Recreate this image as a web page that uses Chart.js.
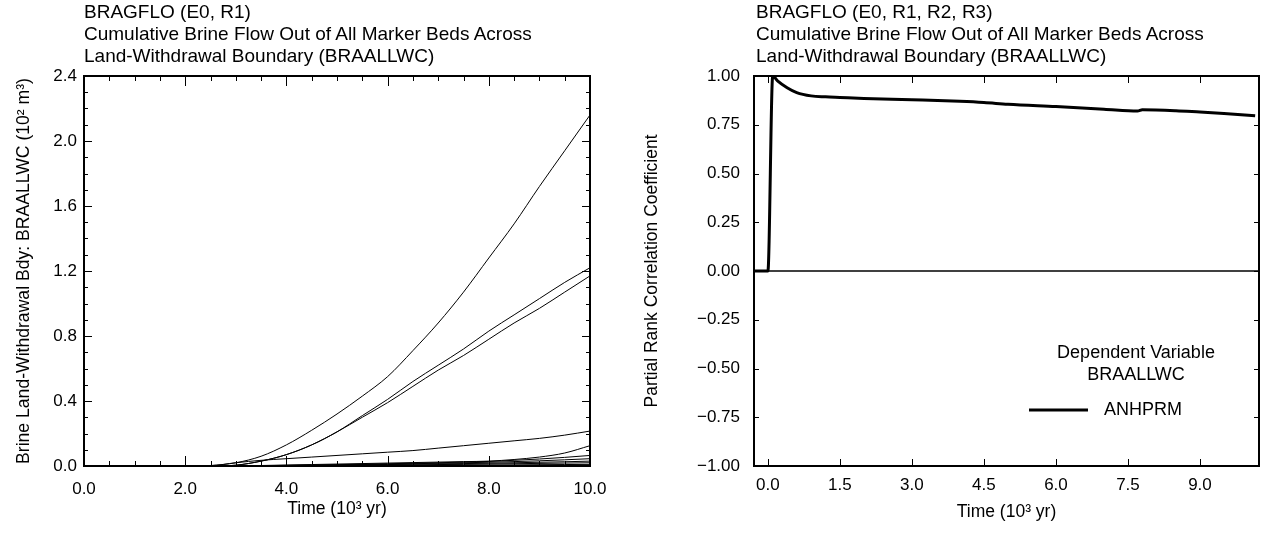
<!DOCTYPE html>
<html><head><meta charset="utf-8">
<script src="https://cdn.jsdelivr.net/npm/chart.js@4.4.1/dist/chart.umd.min.js"></script>
<style>
html,body{margin:0;padding:0;background:#fff;width:1262px;height:533px;overflow:hidden;}
.wrap{position:absolute;top:0;width:631px;height:533px;}
canvas{position:absolute;left:0;top:0;}
.title{position:absolute;top:1px;font-family:"Liberation Sans",Arial,sans-serif;font-size:19px;line-height:22px;color:#000;white-space:nowrap;}
</style></head><body>
<div class="wrap" style="left:0px"><canvas id="c1" width="631" height="533"></canvas>
<div class="title" style="left:84px">BRAGFLO (E0, R1)<br>Cumulative Brine Flow Out of All Marker Beds Across<br>Land-Withdrawal Boundary (BRAALLWC)</div></div>
<div class="wrap" style="left:631px"><canvas id="c2" width="631" height="533"></canvas>
<div class="title" style="left:125px">BRAGFLO (E0, R1, R2, R3)<br>Cumulative Brine Flow Out of All Marker Beds Across<br>Land-Withdrawal Boundary (BRAALLWC)</div></div>
<script>
// ---------- Left chart data (10^3 yr, 10^2 m^3) ----------
const times = [0, 2.0, 2.5, 3.0, 3.5, 4.0, 4.5, 5.0, 5.5, 6.0, 6.5, 7.0, 7.5, 8.0, 8.5, 9.0, 9.5, 10.0];
const vec1  = [0, 0, 0.003, 0.02, 0.06, 0.13, 0.22, 0.32, 0.43, 0.55, 0.71, 0.88, 1.07, 1.28, 1.49, 1.72, 1.94, 2.16];
const vec2  = [0, 0, 0, 0.005, 0.03, 0.07, 0.13, 0.21, 0.31, 0.41, 0.52, 0.62, 0.72, 0.83, 0.93, 1.03, 1.13, 1.22];
const vec3  = [0, 0, 0, 0.005, 0.03, 0.07, 0.13, 0.21, 0.30, 0.39, 0.49, 0.59, 0.68, 0.78, 0.88, 0.97, 1.07, 1.17];
const vec4  = [0, 0, 0.002, 0.02, 0.035, 0.045, 0.055, 0.065, 0.075, 0.085, 0.095, 0.11, 0.125, 0.14, 0.155, 0.17, 0.19, 0.215];
const vec5  = [0, 0, 0, 0, 0.003, 0.006, 0.009, 0.012, 0.015, 0.018, 0.021, 0.024, 0.027, 0.03, 0.04, 0.055, 0.08, 0.125];
const vec6  = [0, 0, 0, 0, 0.002, 0.004, 0.006, 0.008, 0.011, 0.014, 0.017, 0.02, 0.024, 0.028, 0.035, 0.043, 0.053, 0.065];
const vec7  = [0, 0, 0, 0, 0.001, 0.003, 0.005, 0.007, 0.009, 0.011, 0.014, 0.017, 0.02, 0.023, 0.027, 0.032, 0.038, 0.045];
const vec8  = [0, 0, 0, 0, 0.001, 0.002, 0.003, 0.005, 0.007, 0.009, 0.011, 0.013, 0.015, 0.017, 0.02, 0.023, 0.026, 0.03];
const vec9  = [0, 0, 0, 0, 0, 0.001, 0.002, 0.003, 0.004, 0.006, 0.007, 0.009, 0.01, 0.012, 0.014, 0.016, 0.018, 0.02];
const vec10 = [0, 0, 0, 0, 0, 0.001, 0.001, 0.002, 0.002, 0.003, 0.004, 0.004, 0.005, 0.006, 0.007, 0.008, 0.009, 0.01];
const vec11 = [0, 0, 0, 0, 0, 0, 0, 0.001, 0.001, 0.001, 0.002, 0.002, 0.002, 0.003, 0.003, 0.004, 0.004, 0.005];
const vec12 = [0, 0, 0, 0, 0, 0, 0, 0, 0, 0, 0, 0, 0, 0, 0, 0, 0, 0.001];
const leftSeries = [vec1, vec2, vec3, vec4, vec5, vec6, vec7, vec8, vec9, vec10, vec11, vec12];
const leftXTicks = [0, 2, 4, 6, 8, 10];
const leftYTicks = [0, 0.4, 0.8, 1.2, 1.6, 2.0, 2.4];

// ---------- Right chart data (PRCC) ----------
const prccTime = [-0.29, 0.0, 0.1, 0.2, 0.4, 0.6, 0.9, 1.2, 1.5, 2.0, 3.0, 4.0, 4.5, 5.0, 6.0, 7.0, 7.7, 7.8, 8.5, 9.0, 9.5, 10.15];
const prccANHPRM = [0, 0, 1.0, 0.975, 0.94, 0.915, 0.898, 0.893, 0.89, 0.885, 0.878, 0.87, 0.864, 0.855, 0.843, 0.83, 0.82, 0.827, 0.822, 0.815, 0.808, 0.796];
const zeroLineX = [-0.29, 10.23];
const zeroLineY = [0, 0];
const rightXTicks = [0, 1.5, 3.0, 4.5, 6.0, 7.5, 9.0];
const rightYTicks = [-1.0, -0.75, -0.5, -0.25, 0, 0.25, 0.5, 0.75, 1.0];

const FONT = "'Liberation Sans', Arial, sans-serif";
Chart.defaults.font.family = FONT;
Chart.defaults.font.size = 17;
Chart.defaults.color = '#000';

function range(a, b, s) { const r = []; for (let v = a; v <= b + 1e-9; v += s) r.push(+v.toFixed(4)); return r; }

const frameTicks = {
  id: 'frameTicks',
  afterDatasetsDraw(chart, args, o) {
    const { ctx, chartArea: a, scales: { x, y } } = chart;
    ctx.save();
    ctx.strokeStyle = '#000';
    ctx.lineWidth = 1;
    const isMajor = (v, arr) => arr.some(m => Math.abs(m - v) < 1e-6);
    ctx.beginPath();
    o.xMinor.forEach(v => {
      const p = Math.round(x.getPixelForValue(v)) + 0.5;
      const L = isMajor(v, o.xMajor) ? o.xMajorLen : o.xMinorLen;
      ctx.moveTo(p, a.bottom); ctx.lineTo(p, a.bottom - L);
      ctx.moveTo(p, a.top); ctx.lineTo(p, a.top + L);
    });
    o.yMinor.forEach(v => {
      const p = Math.round(y.getPixelForValue(v)) + 0.5;
      const L = isMajor(v, o.yMajor) ? o.yMajorLen : o.yMinorLen;
      ctx.moveTo(a.left, p); ctx.lineTo(a.left + L, p);
      ctx.moveTo(a.right, p); ctx.lineTo(a.right - L, p);
    });
    ctx.stroke();
    ctx.lineWidth = 2;
    ctx.strokeRect(a.left, a.top, a.right - a.left, a.bottom - a.top);
    if (o.legend) {
      const L = o.legend;
      ctx.fillStyle = '#000';
      ctx.font = L.size + 'px ' + FONT;
      ctx.textAlign = 'center';
      ctx.textBaseline = 'middle';
      L.heading.forEach((t, i) => ctx.fillText(t, L.cx, L.y0 + i * L.dy));
      ctx.lineWidth = 3;
      ctx.beginPath();
      ctx.moveTo(L.lx0, L.ly); ctx.lineTo(L.lx1, L.ly); ctx.stroke();
      ctx.textAlign = 'left';
      ctx.fillText(L.label, L.tx, L.ly);
    }
    ctx.restore();
  }
};

function axisBase(ticks, extra) {
  return Object.assign({
    type: 'linear',
    grid: { display: false, drawTicks: false },
    border: { display: false },
    afterBuildTicks: s => { s.ticks = ticks.map(v => ({ value: v })); },
  }, extra);
}

const fmt1 = v => v.toFixed(1);
const fmt2 = v => (v < 0 ? '\u2212' + Math.abs(v).toFixed(2) : v.toFixed(2));

new Chart(document.getElementById('c1'), {
  type: 'line',
  data: {
    datasets: leftSeries.map(s => ({
      data: times.map((t, i) => ({ x: t, y: s[i] })),
      borderColor: '#000', borderWidth: 1, pointRadius: 0, fill: false,
      cubicInterpolationMode: 'monotone'
    }))
  },
  options: {
    responsive: false, animation: false, devicePixelRatio: 1,
    layout: { padding: { top: 76, right: 41, left: 0, bottom: 0 } },
    plugins: {
      legend: { display: false }, tooltip: { enabled: false },
      frameTicks: {
        xMinor: range(0, 10, 0.5), xMajor: leftXTicks, xMinorLen: 5, xMajorLen: 10,
        yMinor: range(0, 2.4, 0.1), yMajor: leftYTicks, yMinorLen: 4, yMajorLen: 8
      }
    },
    scales: {
      x: axisBase(leftXTicks, {
        min: 0, max: 10, afterFit: s => { s.height = 67; },
        ticks: { autoSkip: false, maxRotation: 0, padding: 13, callback: v => fmt1(v) },
        title: { display: true, text: 'Time (10\u00B3 yr)', font: { size: 17.5 }, padding: { top: 0, bottom: 13 } }
      }),
      y: axisBase(leftYTicks, {
        min: 0, max: 2.4, afterFit: s => { s.width = 84; },
        ticks: { autoSkip: false, padding: 7, callback: v => fmt1(v) },
        title: { display: true, text: 'Brine Land-Withdrawal Bdy: BRAALLWC (10\u00B2 m\u00B3)', font: { size: 17.6 }, padding: { top: 14, bottom: 0 } }
      })
    }
  },
  plugins: [frameTicks]
});

new Chart(document.getElementById('c2'), {
  type: 'line',
  data: {
    datasets: [
      { data: prccTime.map((t, i) => ({ x: t, y: prccANHPRM[i] })), borderColor: '#000', borderWidth: 3, pointRadius: 0, fill: false, cubicInterpolationMode: 'monotone' },
      { data: zeroLineX.map((t, i) => ({ x: t, y: zeroLineY[i] })), borderColor: '#000', borderWidth: 1.6, pointRadius: 0, fill: false }
    ]
  },
  options: {
    responsive: false, animation: false, devicePixelRatio: 1,
    layout: { padding: { top: 76, right: 3, left: 0, bottom: 0 } },
    plugins: {
      legend: { display: false }, tooltip: { enabled: false },
      frameTicks: {
        xMinor: rightXTicks, xMajor: rightXTicks, xMinorLen: 7, xMajorLen: 7,
        yMinor: rightYTicks, yMajor: rightYTicks, yMinorLen: 5, yMajorLen: 5,
        legend: { size: 18, cx: 505, y0: 353, dy: 22, heading: ['Dependent Variable', 'BRAALLWC'], lx0: 398, lx1: 457, ly: 410, tx: 473, label: 'ANHPRM' }
      }
    },
    scales: {
      x: axisBase(rightXTicks, {
        min: -0.29, max: 10.23, afterFit: s => { s.height = 67; },
        ticks: { autoSkip: false, maxRotation: 0, padding: 9, callback: v => fmt1(v) },
        title: { display: true, text: 'Time (10\u00B3 yr)', font: { size: 17.5 }, padding: { top: 0, bottom: 10 } }
      }),
      y: axisBase(rightYTicks, {
        min: -1, max: 1, afterFit: s => { s.width = 123; },
        ticks: { autoSkip: false, padding: 14, callback: v => fmt2(v) },
        title: { display: true, text: 'Partial Rank Correlation Coefficient', font: { size: 17.5 }, padding: { top: 11, bottom: 0 } }
      })
    }
  },
  plugins: [frameTicks]
});
</script>
</body></html>
